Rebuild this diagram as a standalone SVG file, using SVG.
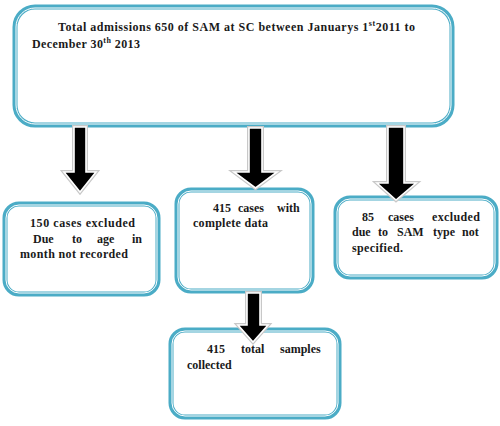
<svg xmlns="http://www.w3.org/2000/svg" width="500" height="426" viewBox="0 0 500 426" xml:space="preserve">
<style>
.box{fill:#fff;stroke:#4BACC6;stroke-width:5}
.inner{fill:none;stroke:#fff;stroke-width:1}
.t{font-family:"Liberation Serif","Times New Roman",Times,serif;font-weight:bold;font-size:12px;fill:#1a1a1a}
.sup{font-size:8px}
.arrow-sh{fill:none;stroke:#c8c8c8;stroke-width:4;stroke-linejoin:miter}
.arrow{fill:#000;stroke:#fff;stroke-width:1.6;stroke-linejoin:miter}
</style>
<rect width="500" height="426" fill="#fff"/>
<g id="n-top">
<rect class="box" x="15" y="7" width="437" height="118" rx="20"/>
<rect class="inner" x="16" y="8" width="435" height="116" rx="19"/>
<text class="t" x="58" y="31" textLength="357" lengthAdjust="spacing">Total admissions  650 of SAM at SC between Januarys  1<tspan class="sup" dy="-5">st</tspan><tspan dy="5">2011 to</tspan></text>
<text class="t" x="32" y="48" textLength="108" lengthAdjust="spacing">December 30<tspan class="sup" dy="-5">th</tspan><tspan dy="5"> 2013</tspan></text>
</g>
<g id="n-left">
<rect class="box" x="5" y="204" width="153" height="90" rx="14"/>
<rect class="inner" x="6" y="205" width="151" height="88" rx="13"/>
<text class="t" x="30" y="227" textLength="105" lengthAdjust="spacing">150 cases excluded</text>
<text class="t" y="243"><tspan x="33">Due</tspan><tspan x="72">to</tspan><tspan x="97">age</tspan><tspan x="132">in</tspan></text>
<text class="t" x="20" y="258" textLength="108" lengthAdjust="spacing">month not recorded</text>
</g>
<g id="n-mid">
<rect class="box" x="177" y="190" width="135" height="101" rx="14"/>
<rect class="inner" x="178" y="191" width="133" height="99" rx="13"/>
<text class="t" y="212"><tspan x="213">415</tspan><tspan x="238">cases</tspan><tspan x="277">with</tspan></text>
<text class="t" x="193" y="227" textLength="75" lengthAdjust="spacing">complete data</text>
</g>
<g id="n-right">
<rect class="box" x="336" y="198" width="160" height="79" rx="14"/>
<rect class="inner" x="337" y="199" width="158" height="77" rx="13"/>
<text class="t" y="221"><tspan x="362">85</tspan><tspan x="388">cases</tspan><tspan x="432" textLength="48" lengthAdjust="spacing">excluded</tspan></text>
<text class="t" y="236"><tspan x="352">due</tspan><tspan x="378">to</tspan><tspan x="397">SAM</tspan><tspan x="433">type</tspan><tspan x="462">not</tspan></text>
<text class="t" x="352" y="252" textLength="51" lengthAdjust="spacing">specified.</text>
</g>
<g id="n-bottom">
<rect class="box" x="171" y="330" width="168" height="87" rx="14"/>
<rect class="inner" x="172" y="331" width="166" height="85" rx="13"/>
<text class="t" y="353"><tspan x="207">415</tspan><tspan x="241">total</tspan><tspan x="280">samples</tspan></text>
<text class="t" x="187" y="369">collected</text>
</g>
<g id="connectors">
<polygon class="arrow-sh" points="74,127 86,127 86,172 96,172 80,192 64,172 74,172"/>
<polygon class="arrow" points="74,127 86,127 86,172 96,172 80,192 64,172 74,172"/>
<polygon class="arrow-sh" points="249,128 262,128 262,172 277,172 255.5,188 234,172 249,172"/>
<polygon class="arrow" points="249,128 262,128 262,172 277,172 255.5,188 234,172 249,172"/>
<polygon class="arrow-sh" points="388,127 404,127 404,183 416,183 396,200 377,183 388,183"/>
<polygon class="arrow" points="388,127 404,127 404,183 416,183 396,200 377,183 388,183"/>
<polygon class="arrow-sh" points="247,293 260,293 260,325 268,325 253,342 238,325 247,325"/>
<polygon class="arrow" points="247,293 260,293 260,325 268,325 253,342 238,325 247,325"/>
</g>
</svg>
